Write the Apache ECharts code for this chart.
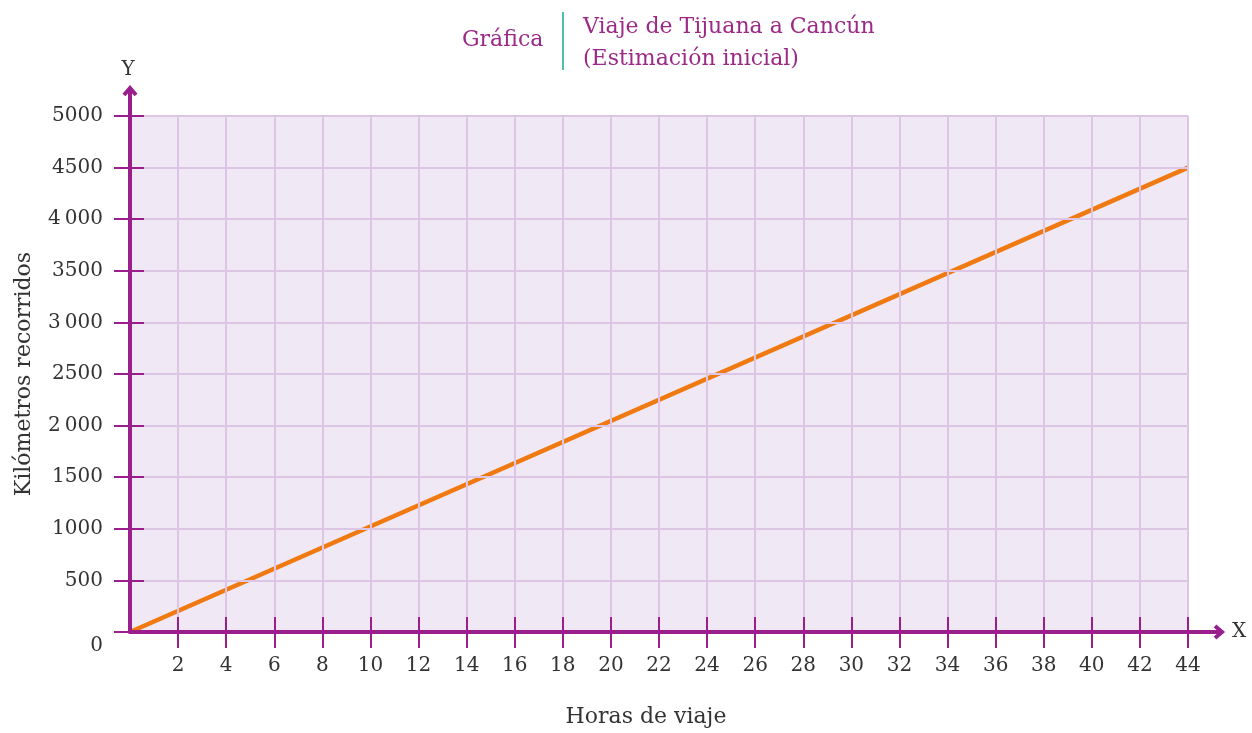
<!DOCTYPE html>
<html>
<head>
<meta charset="utf-8">
<script src="https://cdn.jsdelivr.net/npm/echarts@6/dist/echarts.min.js"></script>
<style>
  html, body { margin: 0; padding: 0; background: #ffffff; }
  #chart { width: 1252px; height: 733px; }
</style>
</head>
<body>
<div id="chart"></div>
<script>
// Horas de viaje vs. kilómetros recorridos (estimación inicial)
const horas = [0, 44];
const kilometros = [0, 4500];

// Tick labels on the vertical axis, in their printed form
const yTickValues = [0, 500, 1000, 1500, 2000, 2500, 3000, 3500, 4000, 4500, 5000];
const yTickLabels = ['0', '500', '1000', '1500', '2\u2009000', '2500', '3\u2009000', '3500', '4\u2009000', '4500', '5000'];

const PURPLE = '#9a1f8c';
const GRID = '#ddc5e6';
const FONT = '"DejaVu Serif", serif';
const TEXT = '#333333';

const chart = echarts.init(document.getElementById('chart'), null, { renderer: 'canvas' });

const yLabelFor = v => {
  const i = yTickValues.indexOf(v);
  return i >= 0 ? yTickLabels[i] : '';
};

const option = {
  animation: false,
  backgroundColor: '#ffffff',
  title: [
    {
      text: 'Gráfica',
      left: 457, top: 24,
      textStyle: { color: '#9b2a87', fontFamily: FONT, fontSize: 22, fontWeight: 'normal' }
    },
    {
      text: 'Viaje de Tijuana a Cancún\n(Estimación inicial)',
      left: 578, top: 6,
      textStyle: { color: '#9b2a87', fontFamily: FONT, fontSize: 22, fontWeight: 'normal', lineHeight: 32 }
    }
  ],
  grid: {
    left: 130, right: 64, top: 116, bottom: 98,
    show: true, backgroundColor: '#f1e8f6', borderWidth: 0
  },
  xAxis: [
    {
      type: 'value', min: 0, max: 44, interval: 2,
      name: 'X', nameLocation: 'end', nameGap: 44,
      nameTextStyle: { color: TEXT, fontFamily: FONT, fontSize: 20, padding: [6, 0, 0, 0] },
      axisLine: { show: true, lineStyle: { color: PURPLE, width: 4 } },
      axisTick: { show: true, inside: false, length: 16, lineStyle: { color: PURPLE, width: 2 } },
      axisLabel: {
        show: true, showMinLabel: false, margin: 24,
        color: TEXT, fontFamily: FONT, fontSize: 20,
        formatter: v => (v === 0 ? '' : String(v))
      },
      splitLine: { show: true, lineStyle: { color: GRID, width: 2 } },
      z: 5
    },
    {
      type: 'value', min: 0, max: 44, interval: 2, position: 'bottom',
      name: 'Horas de viaje', nameLocation: 'middle', nameGap: 74,
      nameTextStyle: { color: TEXT, fontFamily: FONT, fontSize: 22, padding: [0, 26, 0, 0] },
      axisLine: { show: false },
      axisTick: { show: true, inside: true, length: 15, lineStyle: { color: PURPLE, width: 2 } },
      axisLabel: { show: false },
      splitLine: { show: false },
      z: 5
    }
  ],
  yAxis: [
    {
      type: 'value', min: 0, max: 5000, interval: 500,
      name: 'Y', nameLocation: 'end', nameGap: 36,
      nameTextStyle: { color: TEXT, fontFamily: FONT, fontSize: 20, align: 'center', padding: [0, 4, 0, 0] },
      axisLine: { show: true, lineStyle: { color: PURPLE, width: 4 } },
      axisTick: { show: true, inside: false, length: 16, lineStyle: { color: PURPLE, width: 2 } },
      axisLabel: {
        show: true, margin: 27,
        color: TEXT, fontFamily: FONT, fontSize: 20,
        formatter: v => (v === 0 ? '{zero|0}' : yLabelFor(v)),
        rich: {
          zero: { color: TEXT, fontFamily: FONT, fontSize: 20, padding: [28, 0, 0, 0] }
        }
      },
      splitLine: { show: true, lineStyle: { color: GRID, width: 2 } },
      z: 5
    },
    {
      type: 'value', min: 0, max: 5000, interval: 500, position: 'left',
      name: 'Kilómetros recorridos', nameLocation: 'middle', nameGap: 95,
      nameTextStyle: { color: TEXT, fontFamily: FONT, fontSize: 22 },
      axisLine: { show: false },
      axisTick: { show: true, inside: true, length: 14, lineStyle: { color: PURPLE, width: 2 } },
      axisLabel: { show: false },
      splitLine: { show: false },
      z: 5
    }
  ],
  series: [
    {
      type: 'line',
      data: horas.map((h, i) => [h, kilometros[i]]),
      xAxisIndex: 0, yAxisIndex: 0,
      symbol: 'none',
      lineStyle: { color: '#f07a12', width: 4.5 },
      z: 4
    }
  ]
};

chart.setOption(option);

// Axis extensions with arrowheads and the title separator
const xEnd = chart.convertToPixel({ gridIndex: 0 }, [44, 0]);
const yEnd = chart.convertToPixel({ gridIndex: 0 }, [0, 5000]);
const xTip = [xEnd[0] + 34, xEnd[1]];
const yTip = [yEnd[0], yEnd[1] - 28];
const arrowStyle = { stroke: PURPLE, lineWidth: 4, fill: null, lineJoin: 'miter', lineCap: 'butt' };

chart.setOption({
  graphic: [
    { type: 'line', z: 10, shape: { x1: xEnd[0], y1: xEnd[1], x2: xTip[0], y2: xTip[1] }, style: { stroke: PURPLE, lineWidth: 4 } },
    { type: 'polyline', z: 10, shape: { points: [[xTip[0] - 7, xTip[1] - 6], [xTip[0], xTip[1]], [xTip[0] - 7, xTip[1] + 6]] }, style: arrowStyle },
    { type: 'line', z: 10, shape: { x1: yEnd[0], y1: yEnd[1], x2: yTip[0], y2: yTip[1] }, style: { stroke: PURPLE, lineWidth: 4 } },
    { type: 'polyline', z: 10, shape: { points: [[yTip[0] - 6, yTip[1] + 7], [yTip[0], yTip[1]], [yTip[0] + 6, yTip[1] + 7]] }, style: arrowStyle },
    { type: 'line', z: 10, shape: { x1: 563, y1: 12, x2: 563, y2: 70 }, style: { stroke: '#4cbfb0', lineWidth: 2 } }
  ]
});
</script>
</body>
</html>
